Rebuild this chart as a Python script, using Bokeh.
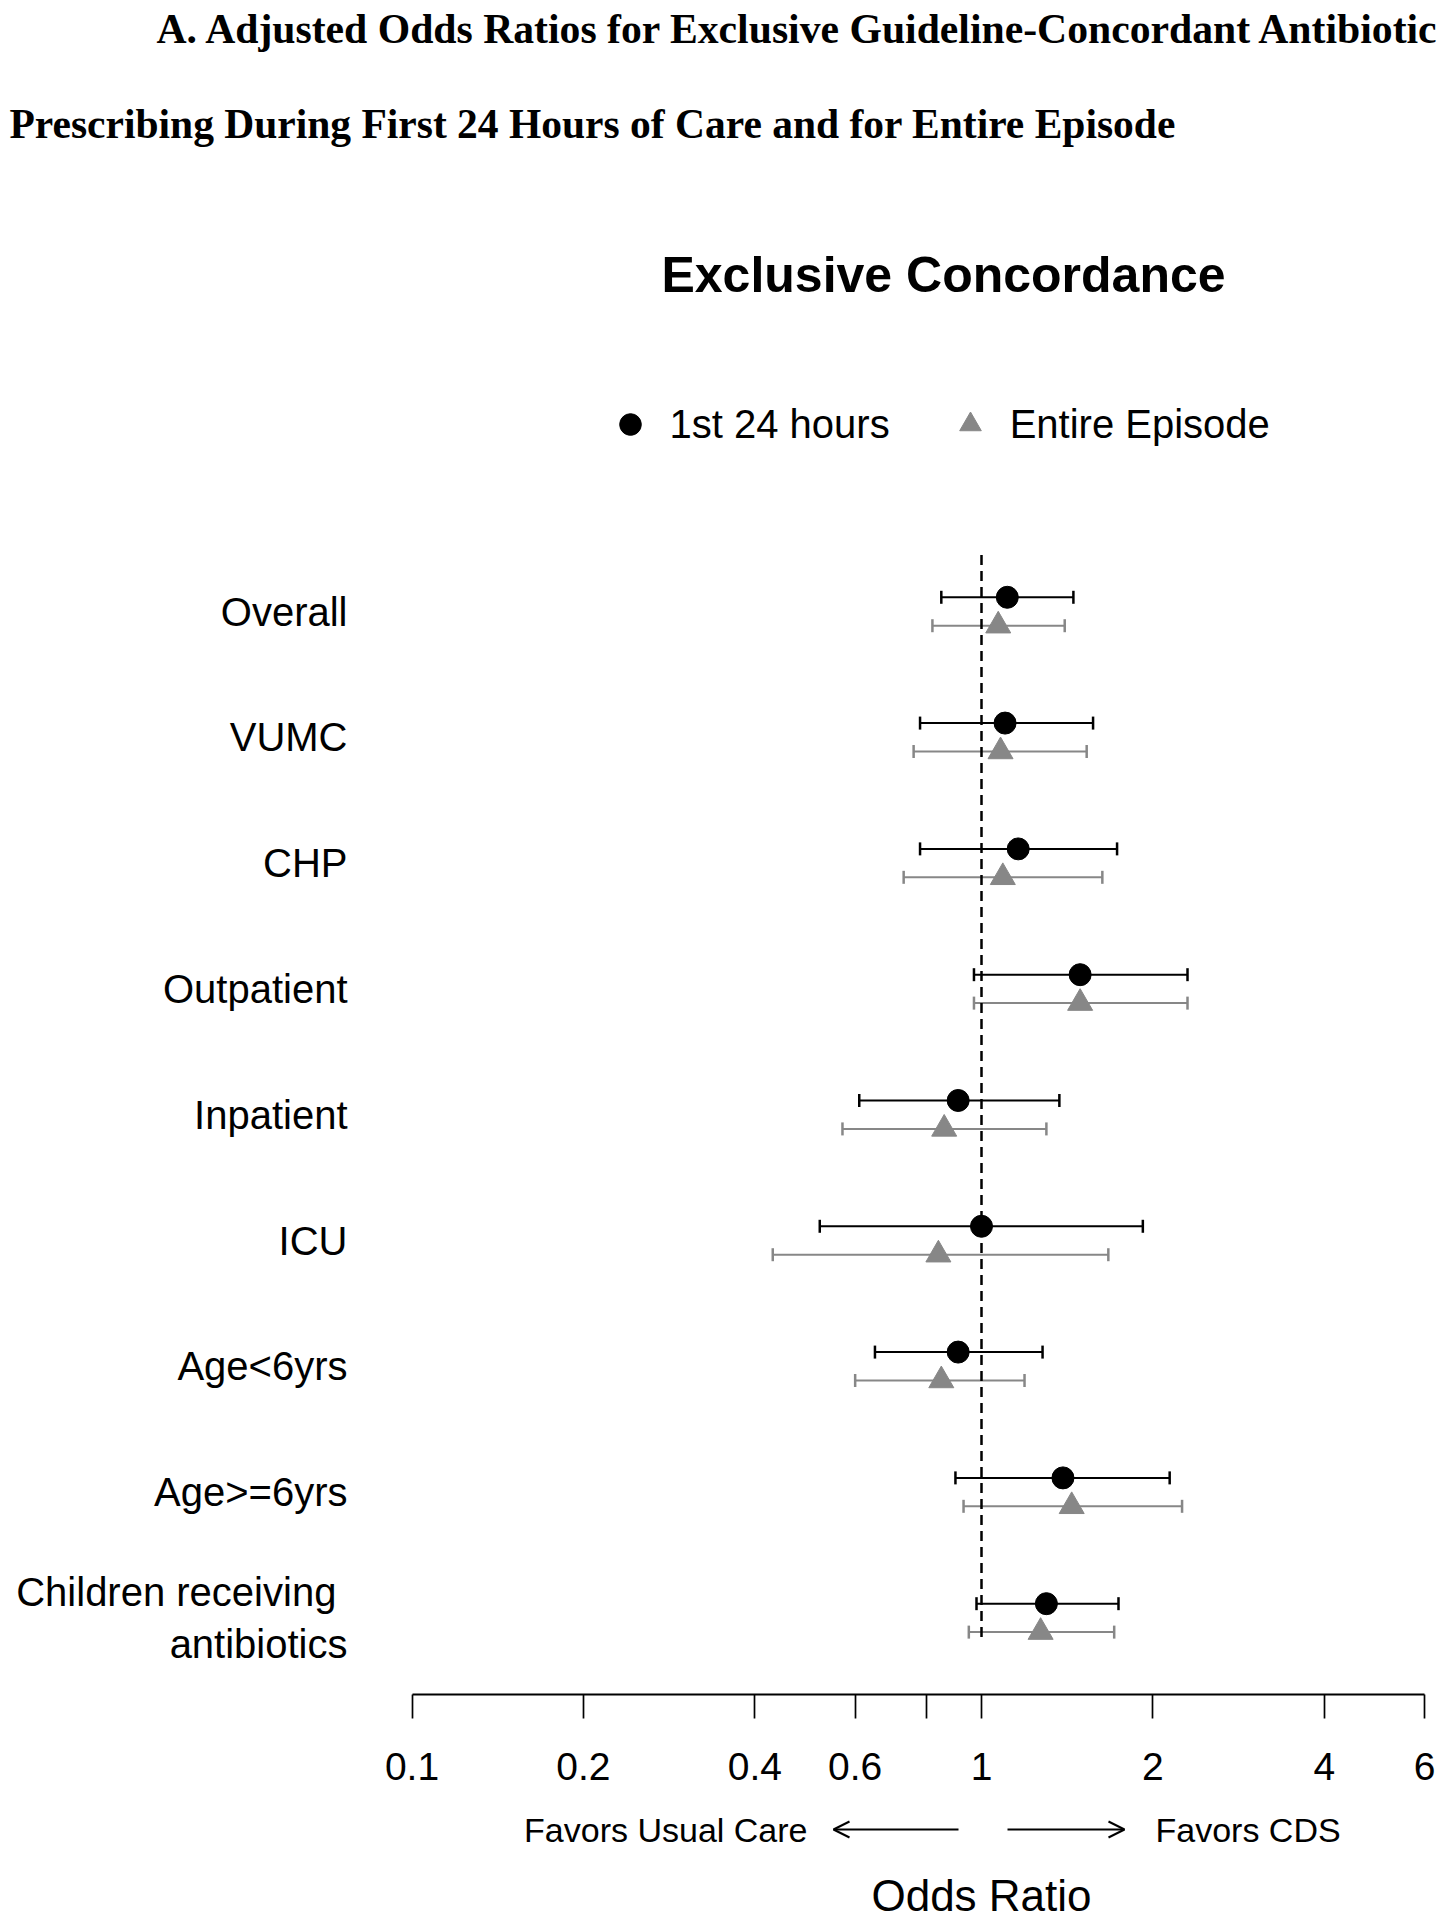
from bokeh.plotting import figure
from bokeh.models import (Range1d, LogAxis, LinearAxis, FixedTicker, ColumnDataSource,
                          Whisker, TeeHead, Arrow, OpenHead, Legend, LegendItem)
from bokeh.core.properties import value
from bokeh.embed import file_html
from bokeh.resources import INLINE

# ---------------- data ----------------
categories = ["Overall", "VUMC", "CHP", "Outpatient", "Inpatient", "ICU",
              "Age<6yrs", "Age>=6yrs", "Children receiving \nantibiotics"]

first24_or = [1.11, 1.10, 1.16, 1.49, 0.91, 1.00, 0.91, 1.39, 1.30]
first24_lo = [0.85, 0.78, 0.78, 0.97, 0.61, 0.52, 0.65, 0.90, 0.98]
first24_hi = [1.45, 1.57, 1.73, 2.30, 1.37, 1.92, 1.28, 2.14, 1.74]

episode_or = [1.07, 1.08, 1.09, 1.49, 0.86, 0.84, 0.85, 1.44, 1.27]
episode_lo = [0.82, 0.76, 0.73, 0.97, 0.57, 0.43, 0.60, 0.93, 0.95]
episode_hi = [1.40, 1.53, 1.63, 2.30, 1.30, 1.67, 1.19, 2.25, 1.71]

x_ticks = [0.1, 0.2, 0.4, 0.6, 0.8, 1, 2, 4, 6]
x_tick_labels = ["0.1", "0.2", "0.4", "0.6", "", "1", "2", "4", "6"]

series_names = ["1st 24 hours", "Entire Episode"]
header1 = "A. Adjusted Odds Ratios for Exclusive Guideline-Concordant Antibiotic"
header2 = "Prescribing During First 24 Hours of Care and for Entire Episode"
chart_title = "Exclusive Concordance"
x_title = "Odds Ratio"
favors_left = "Favors Usual Care"
favors_right = "Favors CDS"

# ---------------- layout helpers (picture pixels -> data units) ----------------
W, H = 1444, 1920
X1_PX, DECADE_PX = 981.0, 569.5     # picture x of OR = 1, pixels per decade
ROW0_PX, ROW_PX = 611.0, 125.8      # picture y of first row centre, row spacing


def px2x(px):
    return 10 ** ((px - X1_PX) / DECADE_PX)


def px2y(py):
    return (py - ROW0_PX) / ROW_PX


GREY = "#878787"
FNAME = "Liberation Sans"
FONT = value(FNAME)

p = figure(width=W, height=H, x_axis_type="log", x_axis_location=None, y_axis_location=None,
           x_range=Range1d(px2x(0), px2x(W)),
           y_range=Range1d(px2y(H), px2y(0)),
           min_border=0, toolbar_location=None, output_backend="svg", title=None,
           outline_line_color=None, background_fill_color="white")
p.grid.visible = False

rows = list(range(len(categories)))
off = 0.113
src1 = ColumnDataSource(dict(y=[r - off for r in rows], x=first24_or, lo=first24_lo, hi=first24_hi))
src2 = ColumnDataSource(dict(y=[r + off for r in rows], x=episode_or, lo=episode_lo, hi=episode_hi))

# reference line at OR = 1
p.segment(x0=[1], x1=[1], y0=[-0.45], y1=[rows[-1] + 0.2], line_color="black",
          line_width=2.5, line_dash="10 6")

for src, col in ((src1, "black"), (src2, GREY)):
    p.add_layout(Whisker(source=src, base="y", lower="lo", upper="hi", dimension="width",
                         line_color=col, line_width=2,
                         lower_head=TeeHead(size=13, line_color=col, line_width=2.5),
                         upper_head=TeeHead(size=13, line_color=col, line_width=2.5)))

r1 = p.scatter("x", "y", source=src1, marker="circle", size=22, color="black")
r2 = p.scatter("x", "y", source=src2, marker="triangle", size=25, color=GREY)

# x axis (odds ratio, log)
xa = LogAxis(fixed_location=px2y(1694), ticker=FixedTicker(ticks=x_ticks),
             major_label_overrides={t: s for t, s in zip(x_ticks, x_tick_labels)},
             bounds=(0.1, 6), axis_line_width=2, axis_line_color="black",
             major_tick_line_width=1.7, major_tick_line_color="black",
             major_tick_out=24, major_tick_in=0, minor_tick_line_color=None,
             major_label_text_font=FNAME, major_label_text_font_size="39px",
             major_label_text_color="black", major_label_standoff=34)
p.add_layout(xa, "below")

# y axis (categories)
ya = LinearAxis(fixed_location=px2x(357), ticker=FixedTicker(ticks=rows),
                major_label_overrides={r: c for r, c in zip(rows, categories)},
                axis_line_color=None, major_tick_line_color=None, minor_tick_line_color=None,
                major_tick_out=0, major_tick_in=0, major_label_standoff=10,
                major_label_text_font=FNAME, major_label_text_font_size="40px",
                major_label_text_color="black")
p.add_layout(ya, "left")

# header and chart title
p.text(x=[px2x(156)], y=[px2y(28)], text=[header1], text_font=value("Liberation Serif"),
       text_font_style="bold", text_font_size="41.7px", text_align="left", text_baseline="middle",
       text_color="black")
p.text(x=[px2x(9)], y=[px2y(123)], text=[header2], text_font=value("Liberation Serif"),
       text_font_style="bold", text_font_size="41.5px", text_align="left", text_baseline="middle",
       text_color="black")
p.text(x=[px2x(943)], y=[px2y(274)], text=[chart_title], text_font=FONT,
       text_font_style="bold", text_font_size="50px", text_align="center", text_baseline="middle",
       text_color="black")

# x-axis title, centred on OR = 1
p.text(x=[px2x(981)], y=[px2y(1895)], text=[x_title], text_font=FONT, text_font_size="44px",
       text_align="center", text_baseline="middle", text_color="black")

# favours annotation
yF = px2y(1829)
p.text(x=[px2x(807)], y=[yF], text=[favors_left], text_font=FONT, text_font_size="34px",
       text_align="right", text_baseline="middle", text_color="black")
p.text(x=[px2x(1155)], y=[yF], text=[favors_right], text_font=FONT, text_font_size="34px",
       text_align="left", text_baseline="middle", text_color="black")
p.add_layout(Arrow(end=OpenHead(size=16, line_width=2, line_color="black"),
                   x_start=px2x(958), y_start=yF, x_end=px2x(833), y_end=yF,
                   line_width=2, line_color="black"))
p.add_layout(Arrow(end=OpenHead(size=16, line_width=2, line_color="black"),
                   x_start=px2x(1007), y_start=yF, x_end=px2x(1124), y_end=yF,
                   line_width=2, line_color="black"))

# legend
legend = Legend(items=[LegendItem(label=series_names[0], renderers=[r1]),
                       LegendItem(label=series_names[1], renderers=[r2])],
                orientation="horizontal", location=(602.5, 1469),
                glyph_width=54, glyph_height=54, label_standoff=13, spacing=53,
                padding=0, margin=0, border_line_color=None, background_fill_alpha=0,
                label_text_font=FNAME, label_text_font_size="40px", label_text_color="black")
p.add_layout(legend, "center")

open("out.html", "w").write(file_html(p, INLINE))
